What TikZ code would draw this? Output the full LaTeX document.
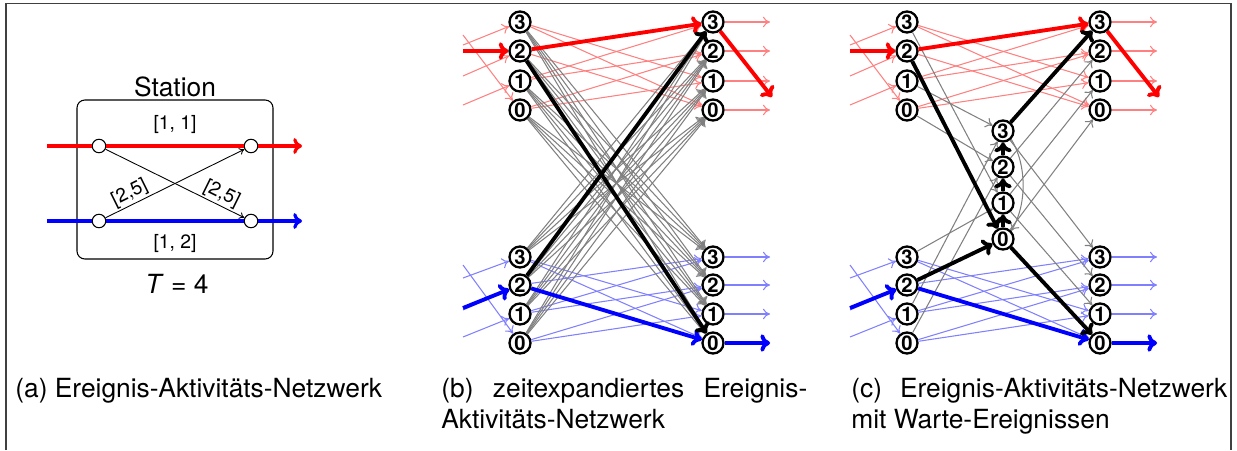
\documentclass[tikz,border=0pt]{standalone}
\usepackage{fontspec}
\setmainfont{TeX Gyre Heros}
\usetikzlibrary{positioning, arrows.meta}

\tikzset{
  ev/.style={circle, draw, line width=1.3pt, fill=white, inner sep=0pt,
    minimum size=0.42cm, font=\fontsize{11.5}{12}\selectfont\bfseries},
  halt/.style={circle, draw, line width=0.6pt, fill=white, inner sep=0pt,
    minimum size=0.27cm},
  thin tip/.style={-{To[length=4pt, width=6pt]}, line width=0.6pt},
  thick tip/.style={-{To[length=5.5pt, width=10pt]}, line width=2.2pt},
  lred/.style={thin tip, red!50},
  lblue/.style={thin tip, blue!50},
  hred/.style={thick tip, red},
  hblue/.style={thick tip, blue},
  garc/.style={thin tip, gray},
  hpath/.style={thick tip, black},
  small/.style={font=\fontsize{11}{13}\selectfont},
}

\begin{document}
\begin{tikzpicture}[x=0.02cm, y=-0.02cm, font=\fontsize{15}{17.5}\selectfont]
  \useasboundingbox (0,0) rectangle (1237,450);

  % frame
  \draw[darkgray, line width=0.7pt] (6,450) -- (6,3.5) -- (1231,3.5) -- (1231,450);

  % (a) station with two lines
  \draw[rounded corners=4.5pt, line width=0.6pt] (77,100) rectangle (273,259);
  \node (station) at (175,87) {Station};
  \node[halt] (aR1) at (99,146) {};
  \node[halt] (aR2) at (251,146) {};
  \node[halt] (aB1) at (99,221) {};
  \node[halt] (aB2) at (251,221) {};
  \coordinate (aRin) at (47,146);
  \coordinate (aRout) at (302,146);
  \coordinate (aBin) at (47,221);
  \coordinate (aBout) at (302,221);

  \draw[red, line width=1.8pt, -{To[length=5pt, width=9pt]}] (aRin) -- (aR1) -- (aR2) -- (aRout);
  \draw[blue, line width=1.8pt, -{To[length=5pt, width=9pt]}] (aBin) -- (aB1) -- (aB2) -- (aBout);
  \draw[-{To[length=3pt, width=4pt]}, line width=0.5pt] (aR1) -- (aB2)
    node[pos=0.8, sloped, above, inner sep=1pt, small] {[2,5]};
  \draw[-{To[length=3pt, width=4pt]}, line width=0.5pt] (aB1) -- (aR2)
    node[pos=0.21, sloped, above, inner sep=1pt, small] {[2,5]};

  \node[small] (lred) at (175,125) {[1, 1]};
  \node[small] (lblue) at (175,243) {[1, 2]};
  \node (period) at (177,284) {\textit{T} = 4};

  % events of (b) and (c)
  \foreach \p/\xl/\xr in {b/520/713, c/907/1100} {
    \foreach \k/\yr/\yb in {3/22/257, 2/51/285, 1/81/314, 0/110/343} {
      \node[ev] (\p Ra\k) at (\xl,\yr) {\k};
      \node[ev] (\p Rd\k) at (\xr,\yr) {\k};
      \node[ev] (\p Ba\k) at (\xl,\yb) {\k};
      \node[ev] (\p Bd\k) at (\xr,\yb) {\k};
    }
  }
  % waiting events
  \foreach \k/\y in {3/131, 2/167, 1/203, 0/239}
    \node[ev] (cW\k) at (1003,\y) {\k};

  % driving and stopping
  \foreach \p/\xl/\xr in {b/520/713, c/907/1100} {
    \foreach \k/\yr/\yb/\sr/\sb in {3/22/257/45/278, 2/51/285/76/310, 1/81/314/105/337, 0/110/343/35/265} {
      \pgfmathtruncatemacro{\ka}{mod(\k+1,4)}
      \pgfmathtruncatemacro{\kb}{mod(\k+2,4)}
      \coordinate (\p Rin\k) at (\xl-57,\sr);
      \coordinate (\p Bin\k) at (\xl-57,\sb);
      \coordinate (\p Rout\k) at (\xr+57,\yr);
      \coordinate (\p Bout\k) at (\xr+57,\yb);
      \draw[lred] (\p Rin\k) -- (\p Ra\k);
      \draw[lblue] (\p Bin\k) -- (\p Ba\k);
      \draw[lred] (\p Ra\k) -- (\p Rd\ka);
      \draw[lred] (\p Ra\k) -- (\p Rd\kb);
      \draw[lblue] (\p Ba\k) -- (\p Bd\ka);
      \draw[lblue] (\p Ba\k) -- (\p Bd\kb);
      \draw[lred] (\p Rd\k) -- (\p Rout\k);
      \draw[lblue] (\p Bd\k) -- (\p Bout\k);
    }
  }

  % transfers (b)
  \foreach \i in {0,...,3}
    \foreach \j in {0,...,3} {
      \draw[garc] (bRa\i) -- (bBd\j);
      \draw[garc] (bBa\i) -- (bRd\j);
    }

  % transfers (c)
  \foreach \k/\w in {3/1, 1/3, 0/2} {
    \draw[garc] (cRa\k) -- (cW\w);
    \draw[garc] (cBa\k) -- (cW\w);
  }
  \foreach \k in {0,1,2}
    \draw[garc] (cW\k) -- (cRd\k);
  \foreach \k in {1,2,3}
    \draw[garc] (cW\k) -- (cBd\k);
  \draw[garc] (cW3.south east) .. controls (1027,165) and (1027,205) .. (cW0.north east);

  % chosen trains
  \foreach \p/\xl/\xr in {b/520/713, c/907/1100} {
    \coordinate (\p Rhin) at (\xl-57,51);
    \coordinate (\p Bhin) at (\xl-57,308);
    \coordinate (\p Rhout) at (\xr+59,97);
    \coordinate (\p Bhout) at (\xr+57,343);
    \draw[hred] (\p Rhin) -- (\p Ra2);
    \draw[hred] (\p Ra2) -- (\p Rd3);
    \draw[hred] (\p Rd3) -- (\p Rhout);
    \draw[hblue] (\p Bhin) -- (\p Ba2);
    \draw[hblue] (\p Ba2) -- (\p Bd0);
    \draw[hblue] (\p Bd0) -- (\p Bhout);
  }

  % chosen transfers
  \draw[hpath] (bRa2) -- (bBd0);
  \draw[hpath] (bBa2) -- (bRd3);
  \draw[hpath] (cRa2) -- (cW0);
  \draw[hpath] (cBa2) -- (cW0);
  \draw[hpath] (cW0) -- (cW1);
  \draw[hpath] (cW1) -- (cW2);
  \draw[hpath] (cW2) -- (cW3);
  \draw[hpath] (cW3) -- (cRd3);
  \draw[hpath] (cW0) -- (cBd0);

  % captions
  \node[anchor=base west, inner sep=0] (capa) at (15,397) {(a) Ereignis-Aktivitäts-Netzwerk};
  \node[anchor=north west, inner sep=0, text width=7.32cm, align=justify] (capb) at (441,378)
    {(b) zeitexpandiertes Ereignis-\linebreak Aktivitäts-Netzwerk};
  \node[anchor=north west, inner sep=0, text width=7.52cm, align=justify] (capc) at (851,378)
    {(c) Ereignis-Aktivitäts-Netzwerk\linebreak mit Warte-Ereignissen};
\end{tikzpicture}
\end{document}
